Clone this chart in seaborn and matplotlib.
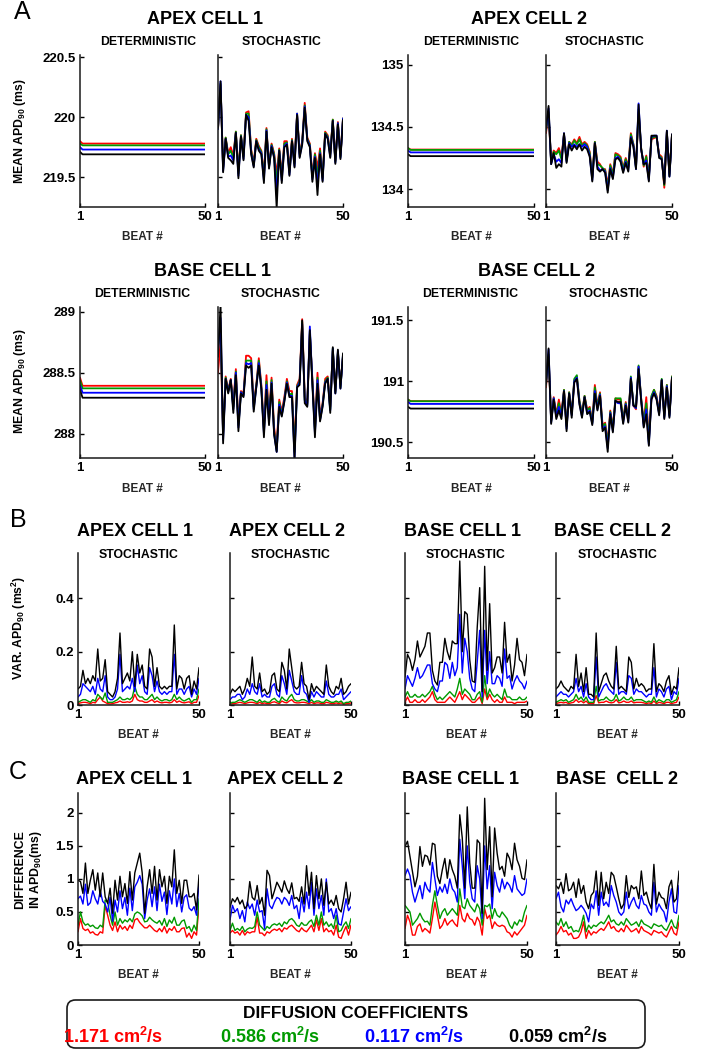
import matplotlib
matplotlib.use("Agg")
import matplotlib.pyplot as plt
from matplotlib.patches import FancyBboxPatch
import seaborn as sns

# ---------------- data ----------------
beats = list(range(1, 51))
line_colors = ["#ff0000", "#009a00", "#0000ff", "#000000"]   # red, green, blue, black
diffusion_labels = ["1.171 cm$^2$/s", "0.586 cm$^2$/s", "0.117 cm$^2$/s", "0.059 cm$^2$/s"]

# Panel A - deterministic mean APD90 (red, green, blue, black)
det_apex1 = [[219.80] + [219.78] * 49, [219.78] + [219.765] * 49,
             [219.75] + [219.73] * 49, [219.71] + [219.69] * 49]
det_apex2 = [[134.33] + [134.318] * 49, [134.33] + [134.315] * 49,
             [134.31] + [134.295] * 49, [134.28] + [134.265] * 49]
det_base1 = [[288.46] + [288.393] * 49, [288.44] + [288.372] * 49,
             [288.40] + [288.336] * 49, [288.36] + [288.295] * 49]
det_base2 = [[190.85] + [190.837] * 49, [190.85] + [190.836] * 49,
             [190.83] + [190.814] * 49, [190.79] + [190.776] * 49]

# Panel A - stochastic mean APD90
sto_apex1_red = [219.90, 220.27, 219.58, 219.83, 219.70, 219.75, 219.68, 219.88, 219.55, 219.85,
                 219.68, 220.04, 220.05, 219.73, 219.62, 219.82, 219.76, 219.72, 219.52, 219.91,
                 219.60, 219.78, 219.70, 219.52, 219.74, 219.52, 219.80, 219.80, 219.56, 219.82,
                 219.63, 220.03, 219.70, 219.80, 220.12, 219.83, 219.78, 219.52, 219.70, 219.58,
                 219.74, 219.50, 219.88, 219.85, 219.70, 219.98, 219.64, 219.96, 219.68, 219.99]
sto_apex1_green = [219.90, 220.28, 219.57, 219.83, 219.69, 219.72, 219.66, 219.88, 219.53, 219.85,
                   219.67, 220.03, 220.03, 219.72, 219.60, 219.81, 219.75, 219.71, 219.50, 219.90,
                   219.59, 219.77, 219.69, 219.45, 219.73, 219.50, 219.78, 219.79, 219.54, 219.81,
                   219.61, 220.03, 219.69, 219.79, 220.10, 219.82, 219.77, 219.50, 219.69, 219.50,
                   219.72, 219.49, 219.87, 219.84, 219.69, 219.98, 219.63, 219.95, 219.67, 219.99]
sto_apex1_blue = [219.90, 220.30, 219.55, 219.82, 219.67, 219.68, 219.64, 219.87, 219.51, 219.84,
                  219.65, 220.02, 220.00, 219.70, 219.59, 219.80, 219.73, 219.70, 219.47, 219.89,
                  219.58, 219.76, 219.67, 219.35, 219.72, 219.47, 219.76, 219.78, 219.52, 219.80,
                  219.59, 220.03, 219.67, 219.78, 220.09, 219.81, 219.76, 219.48, 219.67, 219.42,
                  219.70, 219.47, 219.86, 219.83, 219.67, 219.97, 219.62, 219.95, 219.66, 219.99]
sto_apex1_black = [219.91, 220.30, 219.54, 219.82, 219.66, 219.64, 219.61, 219.87, 219.49, 219.84,
                   219.64, 220.02, 219.97, 219.69, 219.58, 219.80, 219.72, 219.69, 219.45, 219.88,
                   219.57, 219.75, 219.66, 219.24, 219.72, 219.45, 219.75, 219.77, 219.51, 219.80,
                   219.58, 220.02, 219.66, 219.77, 220.08, 219.80, 219.75, 219.46, 219.66, 219.35,
                   219.69, 219.46, 219.86, 219.82, 219.66, 219.97, 219.61, 219.94, 219.65, 219.98]

sto_apex2_red = [134.45, 134.60, 134.22, 134.31, 134.29, 134.33, 134.26, 134.44, 134.24, 134.38,
                 134.36, 134.40, 134.37, 134.42, 134.36, 134.38, 134.36, 134.30, 134.10, 134.38,
                 134.22, 134.20, 134.16, 134.16, 134.03, 134.20, 134.12, 134.29, 134.28, 134.26,
                 134.17, 134.25, 134.18, 134.45, 134.36, 134.18, 134.62, 134.33, 134.18, 134.27,
                 134.10, 134.40, 134.41, 134.42, 134.28, 134.26, 134.01, 134.46, 134.12, 134.44]
sto_apex2_green = [134.47, 134.62, 134.21, 134.30, 134.28, 134.31, 134.24, 134.44, 134.23, 134.38,
                   134.35, 134.39, 134.36, 134.40, 134.35, 134.37, 134.35, 134.29, 134.09, 134.38,
                   134.20, 134.19, 134.17, 134.15, 134.01, 134.19, 134.11, 134.28, 134.27, 134.25,
                   134.16, 134.24, 134.17, 134.44, 134.36, 134.17, 134.64, 134.33, 134.19, 134.26,
                   134.09, 134.41, 134.42, 134.42, 134.27, 134.25, 134.03, 134.46, 134.11, 134.44]
sto_apex2_blue = [134.48, 134.65, 134.20, 134.28, 134.22, 134.24, 134.21, 134.45, 134.22, 134.37,
                  134.34, 134.36, 134.34, 134.36, 134.34, 134.36, 134.34, 134.27, 134.07, 134.37,
                  134.18, 134.15, 134.16, 134.14, 133.99, 134.17, 134.09, 134.25, 134.26, 134.23,
                  134.14, 134.22, 134.15, 134.42, 134.35, 134.16, 134.69, 134.32, 134.20, 134.23,
                  134.07, 134.42, 134.43, 134.43, 134.26, 134.24, 134.05, 134.47, 134.10, 134.44]
sto_apex2_black = [134.49, 134.67, 134.20, 134.29, 134.17, 134.20, 134.18, 134.45, 134.21, 134.36,
                   134.31, 134.35, 134.32, 134.36, 134.31, 134.34, 134.32, 134.26, 134.06, 134.37,
                   134.16, 134.14, 134.16, 134.13, 133.97, 134.16, 134.08, 134.24, 134.25, 134.22,
                   134.13, 134.21, 134.14, 134.41, 134.34, 134.16, 134.68, 134.32, 134.20, 134.21,
                   134.06, 134.43, 134.43, 134.43, 134.25, 134.24, 134.04, 134.47, 134.10, 134.44]

sto_base1_red = [288.50, 288.75, 288.00, 288.47, 288.36, 288.45, 288.25, 288.53, 288.10, 288.35,
                 288.33, 288.64, 288.64, 288.62, 288.25, 288.40, 288.62, 288.40, 288.05, 288.48,
                 288.15, 288.46, 288.05, 287.90, 288.28, 288.18, 288.30, 288.45, 288.35, 288.35,
                 287.90, 288.40, 288.45, 288.94, 288.30, 288.25, 288.82, 288.45, 288.05, 288.50,
                 288.15, 288.25, 288.45, 288.47, 288.22, 288.68, 288.35, 288.66, 288.40, 288.63]
sto_base1_green = [288.72, 288.85, 287.98, 288.46, 288.35, 288.44, 288.22, 288.51, 288.07, 288.34,
                   288.32, 288.60, 288.60, 288.60, 288.22, 288.39, 288.60, 288.38, 288.02, 288.43,
                   288.12, 288.44, 288.02, 287.86, 288.26, 288.16, 288.28, 288.43, 288.32, 288.33,
                   287.85, 288.39, 288.43, 288.92, 288.28, 288.24, 288.84, 288.43, 288.02, 288.46,
                   288.12, 288.24, 288.43, 288.46, 288.20, 288.70, 288.34, 288.67, 288.38, 288.64]
sto_base1_blue = [288.68, 288.95, 287.95, 288.45, 288.34, 288.44, 288.20, 288.50, 288.05, 288.34,
                  288.31, 288.58, 288.57, 288.58, 288.20, 288.38, 288.58, 288.37, 288.00, 288.40,
                  288.10, 288.42, 288.00, 287.85, 288.24, 288.15, 288.27, 288.42, 288.31, 288.31,
                  287.80, 288.38, 288.42, 288.90, 288.27, 288.23, 288.88, 288.42, 288.00, 288.44,
                  288.11, 288.23, 288.42, 288.45, 288.19, 288.70, 288.33, 288.68, 288.37, 288.65]
sto_base1_black = [288.63, 289.06, 287.92, 288.45, 288.33, 288.44, 288.17, 288.48, 288.02, 288.33,
                   288.30, 288.56, 288.54, 288.56, 288.18, 288.38, 288.56, 288.36, 287.97, 288.36,
                   288.07, 288.41, 287.99, 287.85, 288.22, 288.14, 288.26, 288.41, 288.30, 288.30,
                   287.78, 288.38, 288.40, 288.93, 288.25, 288.22, 288.85, 288.40, 287.97, 288.41,
                   288.10, 288.22, 288.41, 288.45, 288.17, 288.71, 288.33, 288.69, 288.37, 288.66]

sto_base2_red = [190.95, 191.20, 190.68, 190.87, 190.73, 190.85, 190.73, 190.93, 190.64, 190.91,
                 190.74, 191.01, 191.04, 190.84, 190.74, 190.88, 190.77, 190.79, 190.67, 190.97,
                 190.80, 190.91, 190.64, 190.66, 190.50, 190.76, 190.62, 190.86, 190.85, 190.85,
                 190.69, 190.83, 190.70, 191.03, 190.80, 190.77, 191.12, 190.86, 190.66, 190.87,
                 190.52, 190.87, 190.93, 190.88, 190.75, 191.01, 190.72, 190.97, 190.73, 191.04]
sto_base2_green = [190.97, 191.22, 190.67, 190.86, 190.72, 190.82, 190.72, 190.93, 190.63, 190.91,
                   190.73, 191.02, 191.05, 190.84, 190.73, 190.88, 190.76, 190.78, 190.66, 190.95,
                   190.79, 190.90, 190.63, 190.65, 190.48, 190.75, 190.61, 190.86, 190.86, 190.86,
                   190.68, 190.82, 190.69, 191.04, 190.81, 190.78, 191.13, 190.86, 190.65, 190.82,
                   190.50, 190.88, 190.93, 190.87, 190.74, 191.02, 190.71, 190.97, 190.72, 191.04]
sto_base2_blue = [190.98, 191.26, 190.66, 190.86, 190.71, 190.79, 190.71, 190.92, 190.61, 190.90,
                  190.72, 191.00, 191.03, 190.82, 190.71, 190.87, 190.74, 190.76, 190.65, 190.92,
                  190.77, 190.89, 190.61, 190.63, 190.45, 190.74, 190.59, 190.84, 190.82, 190.82,
                  190.66, 190.81, 190.67, 191.03, 190.80, 190.78, 191.12, 190.85, 190.63, 190.77,
                  190.48, 190.86, 190.91, 190.86, 190.73, 191.01, 190.70, 190.96, 190.71, 191.03]
sto_base2_black = [190.98, 191.27, 190.65, 190.85, 190.69, 190.76, 190.69, 190.92, 190.59, 190.90,
                   190.70, 190.99, 191.02, 190.81, 190.70, 190.87, 190.73, 190.75, 190.64, 190.90,
                   190.76, 190.88, 190.59, 190.62, 190.42, 190.73, 190.58, 190.84, 190.83, 190.83,
                   190.65, 190.80, 190.66, 191.02, 190.80, 190.79, 191.10, 190.84, 190.62, 190.73,
                   190.47, 190.85, 190.90, 190.85, 190.72, 191.01, 190.69, 190.95, 190.70, 191.03]

# Panel B - variance of APD90 (ms^2)
var_apex1_red = [0.005, 0.008, 0.010, 0.010, 0.008, 0.005, 0.010, 0.008, 0.020, 0.030,
                 0.015, 0.010, 0.005, 0.004, 0.005, 0.008, 0.010, 0.015, 0.010, 0.010,
                 0.012, 0.010, 0.015, 0.040, 0.020, 0.015, 0.015, 0.010, 0.010, 0.015,
                 0.020, 0.010, 0.015, 0.010, 0.008, 0.010, 0.010, 0.008, 0.010, 0.020,
                 0.010, 0.015, 0.010, 0.008, 0.010, 0.012, 0.005, 0.010, 0.010, 0.035]
var_apex1_green = [0.010, 0.015, 0.020, 0.020, 0.015, 0.010, 0.020, 0.015, 0.040, 0.030,
                   0.020, 0.045, 0.010, 0.010, 0.010, 0.015, 0.020, 0.030, 0.020, 0.020,
                   0.025, 0.020, 0.030, 0.070, 0.040, 0.030, 0.030, 0.020, 0.020, 0.030,
                   0.040, 0.020, 0.030, 0.020, 0.015, 0.020, 0.020, 0.015, 0.020, 0.040,
                   0.020, 0.030, 0.020, 0.015, 0.020, 0.025, 0.010, 0.020, 0.020, 0.060]
var_apex1_blue = [0.03, 0.04, 0.08, 0.07, 0.06, 0.05, 0.07, 0.04, 0.10, 0.06,
                  0.05, 0.11, 0.03, 0.02, 0.02, 0.03, 0.06, 0.19, 0.05, 0.06,
                  0.07, 0.06, 0.10, 0.05, 0.15, 0.08, 0.11, 0.05, 0.04, 0.14,
                  0.11, 0.05, 0.09, 0.05, 0.04, 0.05, 0.04, 0.05, 0.05, 0.19,
                  0.04, 0.06, 0.06, 0.04, 0.06, 0.07, 0.03, 0.06, 0.04, 0.10]
var_apex1_black = [0.06, 0.07, 0.13, 0.08, 0.10, 0.08, 0.11, 0.09, 0.21, 0.09,
                   0.10, 0.17, 0.05, 0.04, 0.03, 0.05, 0.10, 0.27, 0.08, 0.10,
                   0.12, 0.09, 0.20, 0.07, 0.19, 0.12, 0.15, 0.07, 0.06, 0.21,
                   0.18, 0.07, 0.14, 0.07, 0.06, 0.07, 0.06, 0.07, 0.07, 0.30,
                   0.06, 0.11, 0.10, 0.06, 0.10, 0.11, 0.04, 0.09, 0.06, 0.14]

var_apex2_red = [0.003, 0.005, 0.005, 0.008, 0.010, 0.008, 0.005, 0.008, 0.010, 0.010,
                 0.008, 0.005, 0.010, 0.005, 0.008, 0.005, 0.005, 0.010, 0.012, 0.008,
                 0.005, 0.015, 0.010, 0.008, 0.015, 0.020, 0.010, 0.008, 0.008, 0.010,
                 0.010, 0.008, 0.005, 0.010, 0.005, 0.008, 0.008, 0.005, 0.005, 0.010,
                 0.008, 0.005, 0.005, 0.008, 0.005, 0.008, 0.003, 0.005, 0.005, 0.008]
var_apex2_green = [0.005, 0.010, 0.010, 0.015, 0.020, 0.015, 0.010, 0.015, 0.020, 0.020,
                   0.015, 0.010, 0.020, 0.010, 0.015, 0.010, 0.010, 0.020, 0.025, 0.015,
                   0.010, 0.030, 0.020, 0.015, 0.030, 0.040, 0.020, 0.015, 0.015, 0.020,
                   0.020, 0.015, 0.010, 0.020, 0.010, 0.015, 0.015, 0.010, 0.010, 0.020,
                   0.015, 0.010, 0.010, 0.015, 0.010, 0.015, 0.005, 0.010, 0.010, 0.015]
var_apex2_blue = [0.02, 0.03, 0.03, 0.04, 0.04, 0.02, 0.03, 0.06, 0.04, 0.08,
                  0.05, 0.04, 0.08, 0.03, 0.04, 0.03, 0.03, 0.07, 0.08, 0.04,
                  0.03, 0.11, 0.08, 0.04, 0.13, 0.09, 0.05, 0.04, 0.04, 0.11,
                  0.05, 0.04, 0.01, 0.05, 0.03, 0.05, 0.04, 0.03, 0.03, 0.09,
                  0.04, 0.03, 0.03, 0.04, 0.04, 0.06, 0.02, 0.03, 0.04, 0.05]
var_apex2_black = [0.04, 0.06, 0.05, 0.06, 0.07, 0.04, 0.06, 0.10, 0.07, 0.18,
                   0.07, 0.06, 0.12, 0.05, 0.06, 0.04, 0.05, 0.11, 0.12, 0.06,
                   0.05, 0.16, 0.13, 0.06, 0.21, 0.14, 0.07, 0.06, 0.07, 0.16,
                   0.08, 0.07, 0.02, 0.08, 0.05, 0.07, 0.06, 0.05, 0.04, 0.15,
                   0.07, 0.05, 0.04, 0.07, 0.06, 0.10, 0.04, 0.05, 0.07, 0.08]

var_base1_red = [0.01, 0.03, 0.01, 0.01, 0.02, 0.01, 0.01, 0.02, 0.01, 0.02,
                 0.03, 0.05, 0.02, 0.01, 0.01, 0.01, 0.01, 0.02, 0.03, 0.02,
                 0.01, 0.03, 0.05, 0.02, 0.04, 0.03, 0.02, 0.01, 0.01, 0.02,
                 0.03, 0.005, 0.06, 0.02, 0.04, 0.02, 0.01, 0.02, 0.01, 0.01,
                 0.03, 0.01, 0.01, 0.01, 0.005, 0.01, 0.01, 0.01, 0.01, 0.015]
var_base1_green = [0.03, 0.05, 0.03, 0.03, 0.04, 0.03, 0.03, 0.04, 0.03, 0.04,
                   0.05, 0.07, 0.04, 0.02, 0.03, 0.02, 0.03, 0.04, 0.05, 0.04,
                   0.03, 0.06, 0.10, 0.04, 0.06, 0.05, 0.04, 0.02, 0.02, 0.04,
                   0.05, 0.01, 0.11, 0.03, 0.06, 0.04, 0.03, 0.04, 0.03, 0.02,
                   0.06, 0.03, 0.03, 0.02, 0.02, 0.02, 0.03, 0.02, 0.02, 0.03]
var_base1_blue = [0.06, 0.11, 0.09, 0.07, 0.10, 0.14, 0.10, 0.11, 0.13, 0.15,
                  0.15, 0.08, 0.06, 0.05, 0.09, 0.09, 0.16, 0.15, 0.10, 0.16,
                  0.11, 0.14, 0.34, 0.12, 0.25, 0.20, 0.10, 0.06, 0.05, 0.16,
                  0.28, 0.03, 0.28, 0.08, 0.20, 0.08, 0.08, 0.11, 0.10, 0.07,
                  0.21, 0.10, 0.11, 0.06, 0.09, 0.11, 0.09, 0.08, 0.06, 0.09]
var_base1_black = [0.105, 0.19, 0.17, 0.13, 0.17, 0.24, 0.18, 0.20, 0.22, 0.27,
                   0.27, 0.13, 0.09, 0.075, 0.16, 0.16, 0.25, 0.20, 0.17, 0.24,
                   0.23, 0.23, 0.54, 0.20, 0.35, 0.34, 0.17, 0.09, 0.085, 0.29,
                   0.44, 0.05, 0.52, 0.13, 0.38, 0.12, 0.14, 0.18, 0.18, 0.12,
                   0.31, 0.16, 0.19, 0.09, 0.15, 0.25, 0.17, 0.16, 0.11, 0.19]

var_base2_red = [0.005, 0.008, 0.010, 0.008, 0.010, 0.005, 0.008, 0.010, 0.020, 0.010,
                 0.015, 0.008, 0.015, 0.005, 0.005, 0.005, 0.035, 0.008, 0.010, 0.010,
                 0.015, 0.010, 0.008, 0.010, 0.020, 0.008, 0.010, 0.015, 0.010, 0.010,
                 0.015, 0.008, 0.010, 0.010, 0.010, 0.008, 0.005, 0.008, 0.005, 0.015,
                 0.005, 0.010, 0.008, 0.005, 0.010, 0.010, 0.005, 0.008, 0.010, 0.030]
var_base2_green = [0.010, 0.015, 0.020, 0.015, 0.020, 0.010, 0.015, 0.020, 0.040, 0.020,
                   0.030, 0.015, 0.030, 0.010, 0.010, 0.010, 0.070, 0.015, 0.020, 0.020,
                   0.030, 0.020, 0.015, 0.020, 0.040, 0.015, 0.020, 0.030, 0.020, 0.020,
                   0.030, 0.015, 0.020, 0.020, 0.020, 0.015, 0.010, 0.015, 0.010, 0.030,
                   0.010, 0.020, 0.015, 0.010, 0.020, 0.020, 0.010, 0.015, 0.020, 0.050]
var_base2_blue = [0.03, 0.04, 0.05, 0.04, 0.04, 0.03, 0.04, 0.05, 0.10, 0.05,
                  0.07, 0.03, 0.08, 0.03, 0.02, 0.02, 0.18, 0.03, 0.05, 0.07,
                  0.08, 0.06, 0.05, 0.04, 0.16, 0.04, 0.05, 0.05, 0.04, 0.11,
                  0.10, 0.04, 0.06, 0.05, 0.05, 0.04, 0.03, 0.04, 0.04, 0.14,
                  0.03, 0.06, 0.05, 0.03, 0.06, 0.07, 0.02, 0.05, 0.04, 0.10]
var_base2_black = [0.06, 0.07, 0.09, 0.07, 0.06, 0.05, 0.07, 0.06, 0.19, 0.07,
                   0.12, 0.05, 0.14, 0.04, 0.04, 0.03, 0.27, 0.05, 0.08, 0.11,
                   0.12, 0.09, 0.07, 0.06, 0.22, 0.06, 0.07, 0.06, 0.05, 0.18,
                   0.16, 0.06, 0.10, 0.07, 0.08, 0.07, 0.05, 0.06, 0.06, 0.23,
                   0.05, 0.08, 0.07, 0.05, 0.09, 0.11, 0.04, 0.07, 0.06, 0.14]

# Panel C - difference in APD90 (ms)
dif_apex1_red = [0.20, 0.40, 0.25, 0.22, 0.24, 0.18, 0.20, 0.16, 0.15, 0.20,
                 0.18, 0.60, 0.45, 0.30, 0.22, 0.35, 0.20, 0.30, 0.24, 0.28,
                 0.22, 0.30, 0.25, 0.38, 0.40, 0.34, 0.30, 0.26, 0.26, 0.30,
                 0.26, 0.22, 0.20, 0.25, 0.20, 0.28, 0.18, 0.25, 0.22, 0.28,
                 0.20, 0.20, 0.25, 0.26, 0.12, 0.18, 0.10, 0.20, 0.15, 0.60]
dif_apex1_green = [0.30, 0.50, 0.35, 0.30, 0.32, 0.28, 0.30, 0.26, 0.25, 0.30,
                   0.27, 0.68, 0.65, 0.45, 0.30, 0.50, 0.30, 0.40, 0.33, 0.38,
                   0.35, 0.40, 0.35, 0.47, 0.50, 0.48, 0.44, 0.35, 0.36, 0.42,
                   0.38, 0.35, 0.33, 0.37, 0.30, 0.40, 0.28, 0.38, 0.33, 0.42,
                   0.30, 0.30, 0.36, 0.38, 0.25, 0.28, 0.20, 0.30, 0.22, 0.70]
dif_apex1_blue = [0.70, 0.74, 0.62, 0.92, 0.60, 0.64, 0.82, 0.70, 0.62, 0.82,
                  0.66, 0.62, 0.50, 0.72, 0.36, 0.68, 0.50, 0.82, 0.55, 0.72,
                  0.45, 0.86, 0.52, 0.88, 0.95, 1.05, 0.92, 0.40, 0.68, 0.85,
                  0.58, 0.88, 0.52, 0.92, 0.66, 0.80, 0.46, 0.82, 0.62, 1.00,
                  0.58, 0.78, 0.50, 0.72, 0.76, 0.56, 0.52, 0.58, 0.45, 0.95]
dif_apex1_black = [0.98, 0.96, 0.78, 1.24, 0.78, 0.98, 1.14, 0.83, 1.09, 0.73,
                   1.09, 0.73, 0.63, 0.86, 0.48, 0.98, 0.68, 1.04, 0.73, 0.93,
                   0.63, 1.11, 0.68, 1.09, 1.24, 1.39, 1.09, 0.48, 0.88, 1.14,
                   0.78, 1.19, 0.68, 1.14, 0.88, 1.04, 0.63, 1.04, 0.88, 1.44,
                   0.78, 0.98, 0.63, 0.98, 0.98, 0.73, 0.73, 0.78, 0.53, 1.06]

dif_apex2_red = [0.18, 0.22, 0.18, 0.20, 0.15, 0.22, 0.15, 0.20, 0.18, 0.20,
                 0.20, 0.42, 0.18, 0.18, 0.14, 0.20, 0.18, 0.22, 0.24, 0.22,
                 0.25, 0.20, 0.26, 0.24, 0.28, 0.30, 0.26, 0.22, 0.20, 0.26,
                 0.22, 0.20, 0.25, 0.30, 0.20, 0.38, 0.22, 0.40, 0.20, 0.25,
                 0.20, 0.22, 0.15, 0.30, 0.12, 0.10, 0.20, 0.28, 0.15, 0.30]
dif_apex2_green = [0.22, 0.33, 0.22, 0.25, 0.22, 0.28, 0.20, 0.24, 0.26, 0.25,
                   0.28, 0.50, 0.30, 0.26, 0.22, 0.28, 0.25, 0.30, 0.32, 0.30,
                   0.33, 0.28, 0.35, 0.32, 0.38, 0.40, 0.36, 0.30, 0.28, 0.34,
                   0.30, 0.30, 0.35, 0.38, 0.28, 0.45, 0.30, 0.50, 0.30, 0.35,
                   0.28, 0.32, 0.25, 0.45, 0.20, 0.22, 0.30, 0.35, 0.25, 0.40]
dif_apex2_blue = [0.38, 0.60, 0.50, 0.55, 0.40, 0.52, 0.35, 0.65, 0.55, 0.62,
                  0.45, 0.68, 0.50, 0.52, 0.25, 0.85, 0.60, 0.55, 0.65, 0.72,
                  0.70, 0.62, 0.72, 0.68, 0.60, 0.75, 0.55, 0.60, 0.40, 0.72,
                  0.50, 0.80, 0.55, 0.95, 0.45, 0.85, 0.55, 0.75, 0.45, 1.00,
                  0.50, 0.55, 0.40, 0.55, 0.32, 0.30, 0.50, 0.70, 0.52, 0.58]
dif_apex2_black = [0.57, 0.70, 0.65, 0.72, 0.62, 0.68, 0.55, 0.60, 0.96, 0.72,
                   0.68, 0.90, 0.62, 0.72, 0.45, 1.13, 1.05, 0.70, 0.82, 0.95,
                   0.88, 0.80, 0.97, 0.85, 0.78, 0.94, 0.70, 0.72, 0.66, 0.88,
                   0.62, 1.20, 0.75, 1.10, 0.55, 1.05, 0.70, 1.00, 0.60, 0.95,
                   0.62, 0.68, 0.60, 0.75, 0.55, 0.50, 0.70, 0.95, 0.62, 0.80]

dif_base1_red = [0.25, 0.45, 0.35, 0.15, 0.15, 0.28, 0.32, 0.20, 0.25, 0.22,
                 0.18, 0.40, 0.65, 0.45, 0.25, 0.30, 0.40, 0.30, 0.35, 0.38,
                 0.32, 0.28, 0.60, 0.40, 0.35, 0.48, 0.40, 0.38, 0.30, 0.42,
                 0.35, 0.15, 0.55, 0.40, 0.45, 0.25, 0.35, 0.30, 0.28, 0.30,
                 0.28, 0.20, 0.18, 0.12, 0.20, 0.15, 0.20, 0.25, 0.30, 0.45]
dif_base1_green = [0.60, 0.55, 0.50, 0.30, 0.35, 0.40, 0.48, 0.40, 0.35, 0.36,
                   0.30, 0.60, 0.82, 0.60, 0.40, 0.50, 0.55, 0.45, 0.50, 0.55,
                   0.50, 0.45, 0.85, 0.58, 0.55, 0.70, 0.60, 0.55, 0.50, 0.62,
                   0.55, 0.30, 0.60, 0.58, 0.62, 0.40, 0.55, 0.45, 0.42, 0.50,
                   0.45, 0.40, 0.30, 0.25, 0.35, 0.30, 0.38, 0.35, 0.50, 0.60]
dif_base1_blue = [1.05, 1.15, 1.05, 0.80, 0.65, 0.78, 0.90, 0.70, 0.95, 0.85,
                  0.80, 1.25, 1.00, 0.75, 0.88, 0.80, 0.92, 0.78, 1.00, 0.85,
                  0.80, 0.65, 1.60, 1.20, 0.70, 1.50, 0.95, 0.70, 0.65, 1.20,
                  1.00, 0.40, 1.50, 0.85, 1.20, 0.55, 1.10, 0.90, 0.80, 1.00,
                  0.85, 0.95, 0.90, 0.80, 1.05, 0.85, 0.80, 0.75, 0.78, 1.00]
dif_base1_black = [1.49, 1.57, 1.34, 1.11, 0.88, 1.04, 1.49, 1.19, 1.36, 1.34,
                   1.21, 1.54, 1.52, 1.04, 0.93, 1.14, 1.31, 1.01, 1.29, 1.14,
                   1.04, 0.86, 1.97, 1.62, 0.86, 2.09, 1.24, 0.86, 0.86, 1.59,
                   1.54, 0.48, 2.22, 1.14, 1.79, 0.73, 1.77, 1.39, 1.14, 1.19,
                   1.04, 1.39, 1.31, 1.14, 1.54, 1.29, 1.19, 1.01, 0.99, 1.29]

dif_base2_red = [0.15, 0.20, 0.28, 0.20, 0.22, 0.15, 0.18, 0.10, 0.10, 0.12,
                 0.20, 0.35, 0.10, 0.22, 0.15, 0.20, 0.18, 0.22, 0.25, 0.22,
                 0.28, 0.35, 0.25, 0.28, 0.22, 0.20, 0.25, 0.20, 0.30, 0.25,
                 0.20, 0.22, 0.25, 0.18, 0.28, 0.22, 0.20, 0.18, 0.15, 0.22,
                 0.20, 0.18, 0.20, 0.15, 0.12, 0.20, 0.28, 0.18, 0.15, 0.35]
dif_base2_green = [0.35, 0.30, 0.40, 0.28, 0.35, 0.25, 0.28, 0.20, 0.22, 0.20,
                   0.30, 0.45, 0.20, 0.30, 0.25, 0.30, 0.28, 0.32, 0.35, 0.32,
                   0.38, 0.45, 0.35, 0.38, 0.32, 0.30, 0.35, 0.30, 0.40, 0.35,
                   0.30, 0.32, 0.35, 0.28, 0.38, 0.32, 0.30, 0.28, 0.25, 0.32,
                   0.30, 0.28, 0.30, 0.25, 0.22, 0.30, 0.38, 0.28, 0.25, 0.45]
dif_base2_blue = [0.70, 0.80, 0.58, 0.50, 0.68, 0.62, 0.70, 0.60, 0.52, 0.55,
                  0.60, 0.55, 0.48, 0.35, 0.62, 0.55, 0.82, 0.45, 0.80, 0.60,
                  0.65, 0.58, 0.90, 0.75, 0.65, 0.50, 0.45, 0.50, 0.80, 0.55,
                  0.65, 0.72, 0.60, 0.55, 0.75, 0.62, 0.60, 0.50, 0.45, 0.95,
                  0.50, 0.62, 0.55, 0.50, 0.35, 0.65, 0.85, 0.50, 0.48, 0.90]
dif_base2_black = [0.90, 0.85, 0.95, 0.78, 1.08, 0.82, 0.85, 0.95, 0.72, 1.00,
                   0.78, 0.90, 0.65, 0.55, 0.75, 0.80, 1.12, 0.60, 1.10, 0.70,
                   0.95, 0.78, 1.10, 1.05, 0.88, 0.70, 0.55, 0.62, 1.05, 0.72,
                   0.90, 0.85, 0.88, 0.70, 1.12, 0.75, 0.80, 0.65, 0.55, 1.22,
                   0.62, 0.80, 0.72, 0.70, 0.55, 0.88, 0.98, 0.65, 0.70, 1.12]

# ---------------- style ----------------
sns.set_style("ticks")
plt.rcParams["font.family"] = ["Liberation Sans", "DejaVu Sans"]
plt.rcParams["font.weight"] = "bold"
plt.rcParams["mathtext.default"] = "regular"
plt.rcParams["axes.linewidth"] = 1.1
plt.rcParams["axes.edgecolor"] = "#1a1a1a"
plt.rcParams["text.color"] = "black"
plt.rcParams["xtick.color"] = "black"
plt.rcParams["ytick.color"] = "black"

W, H = 704, 1053
fig = plt.figure(figsize=(W / 100, H / 100), dpi=100)


def add_ax(x0, x1, ytop, ybot):
    return fig.add_axes([x0 / W, 1 - ybot / H, (x1 - x0) / W, (ybot - ytop) / H])


def put(x, y, s, size, **kw):
    kw.setdefault("fontweight", "bold")
    fig.text(x / W, 1 - y / H, s, fontsize=size, ha="center", va="center", **kw)


def draw(ax, series, ylim, yticks, show_labels, lw):
    for vals, col in zip(series, line_colors):
        sns.lineplot(x=beats, y=vals, color=col, linewidth=lw, ax=ax)
    ax.set_xlim(1, 50)
    ax.set_ylim(*ylim)
    ax.set_xticks([1, 50])
    ax.set_yticks(yticks)
    ax.set_yticklabels([f"{t:g}" for t in yticks])
    sns.despine(ax=ax)
    ax.tick_params(direction="in", length=3, width=1, labelsize=9.5, pad=3,
                   labelleft=show_labels)
    ax.set_xlabel("BEAT #", fontsize=8.5, fontweight="bold", labelpad=6)
    ax.set_ylabel("")


# ---------------- panel A ----------------
mean_cells = [
    ("APEX CELL 1", det_apex1,
     [sto_apex1_red, sto_apex1_green, sto_apex1_blue, sto_apex1_black],
     (219.25, 220.52), [219.5, 220, 220.5]),
    ("APEX CELL 2", det_apex2,
     [sto_apex2_red, sto_apex2_green, sto_apex2_blue, sto_apex2_black],
     (133.855, 135.08), [134, 134.5, 135]),
    ("BASE CELL 1", det_base1,
     [sto_base1_red, sto_base1_green, sto_base1_blue, sto_base1_black],
     (287.80, 289.04), [288, 288.5, 289]),
    ("BASE CELL 2", det_base2,
     [sto_base2_red, sto_base2_green, sto_base2_blue, sto_base2_black],
     (190.37, 191.61), [190.5, 191, 191.5]),
]
a_cols = [(80, 205, 218, 343), (408, 534, 546, 672)]
a_rows = [(55, 207), (307, 458)]
a_title_x = [205, 529, 212, 536]
a_det_x = [148, 471, 142, 470]
a_sto_x = [282, 605, 281, 609]

for i, (name, det, sto, ylim, yt) in enumerate(mean_cells):
    r, c = divmod(i, 2)
    ytop, ybot = a_rows[r]
    x0, x1, x2, x3 = a_cols[c]
    ax_d = add_ax(x0, x1, ytop, ybot)
    ax_s = add_ax(x2, x3, ytop, ybot)
    draw(ax_d, det, ylim, yt, True, 1.3)
    draw(ax_s, sto, ylim, yt, False, 1.3)
    put(a_title_x[i], ytop - 36, name, 13)
    put(a_det_x[i], ytop - 13, "DETERMINISTIC", 8.8)
    put(a_sto_x[i], ytop - 13, "STOCHASTIC", 8.8)

put(20, 131, "MEAN APD$_{90}$ (ms)", 8.8, rotation=90)
put(20, 381, "MEAN APD$_{90}$ (ms)", 8.8, rotation=90)

# ---------------- panels B and C ----------------
bc_cols = [(78, 199), (230, 351), (405, 527), (556, 679)]
var_cells = [[var_apex1_red, var_apex1_green, var_apex1_blue, var_apex1_black],
             [var_apex2_red, var_apex2_green, var_apex2_blue, var_apex2_black],
             [var_base1_red, var_base1_green, var_base1_blue, var_base1_black],
             [var_base2_red, var_base2_green, var_base2_blue, var_base2_black]]
dif_cells = [[dif_apex1_red, dif_apex1_green, dif_apex1_blue, dif_apex1_black],
             [dif_apex2_red, dif_apex2_green, dif_apex2_blue, dif_apex2_black],
             [dif_base1_red, dif_base1_green, dif_base1_blue, dif_base1_black],
             [dif_base2_red, dif_base2_green, dif_base2_blue, dif_base2_black]]
b_titles = ["APEX CELL 1", "APEX CELL 2", "BASE CELL 1", "BASE CELL 2"]
c_titles = ["APEX CELL 1", "APEX CELL 2", "BASE CELL 1", "BASE  CELL 2"]
b_title_x = [135, 287, 462, 613]
b_sto_x = [139, 291, 466, 618]
c_title_x = [134, 285, 460, 617]

for i, (x0, x1) in enumerate(bc_cols):
    ax_b = add_ax(x0, x1, 553, 705)
    draw(ax_b, var_cells[i], (0, 0.57), [0, 0.2, 0.4], i == 0, 1.0)
    put(b_title_x[i], 531, b_titles[i], 13)
    put(b_sto_x[i], 555, "STOCHASTIC", 8.8)

    ax_c = add_ax(x0, x1, 793, 945)
    draw(ax_c, dif_cells[i], (0, 2.3), [0, 0.5, 1, 1.5, 2], i == 0, 1.0)
    put(c_title_x[i], 780, c_titles[i], 13)

put(19, 628, "VAR. APD$_{90}$ (ms$^2$)", 8.8, rotation=90)
put(29, 870, "DIFFERENCE\nIN APD$_{90}$(ms)", 8.8, rotation=90, linespacing=1.1)

# panel letters
put(22, 12, "A", 18, fontweight="normal")
put(18, 520, "B", 18, fontweight="normal")
put(18, 772, "C", 18, fontweight="normal")

# ---------------- legend box ----------------
box = FancyBboxPatch((67 / W, 1 - 1048 / H), (645 - 67) / W, 48 / H,
                     boxstyle="round,pad=0,rounding_size=0.012",
                     mutation_aspect=W / H, transform=fig.transFigure,
                     fill=False, edgecolor="#1a1a1a", linewidth=1.2)
fig.patches.append(box)
put(356, 1014, "DIFFUSION COEFFICIENTS", 12.5)
for lab, col, xc in zip(diffusion_labels, line_colors, [113, 270, 414, 558]):
    put(xc, 1037, lab, 13, color=col)

fig.savefig("out.png", dpi=100)
